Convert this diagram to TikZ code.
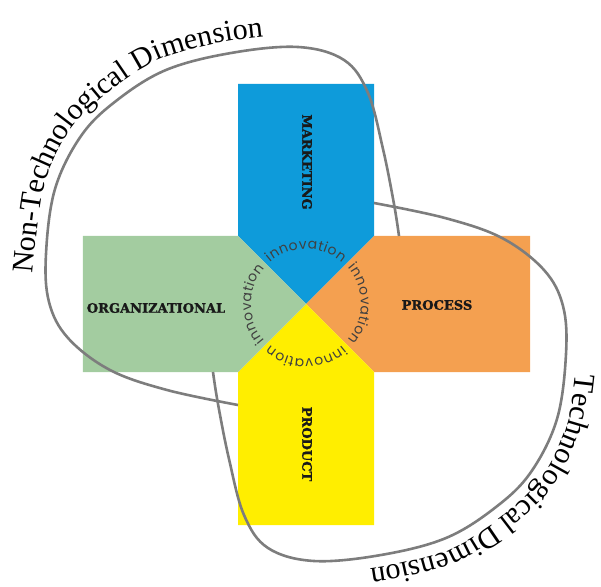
\documentclass[tikz,border=0pt]{standalone}
\usepackage{fontspec}
\setmainfont{Liberation Serif}
\newfontfamily\labelfont{DejaVu Serif}[BoldFeatures={FakeBold=1.3}]
\newfontfamily\innofont{Poppins}
\usetikzlibrary{decorations.text}

\definecolor{mkblue}{RGB}{14,155,218}
\definecolor{orggreen}{RGB}{163,204,160}
\definecolor{procorange}{RGB}{244,160,80}
\definecolor{prodyellow}{RGB}{255,238,0}
\definecolor{loopgray}{RGB}{125,125,125}

\newcommand\dimfont{\fontsize{30}{36}\selectfont}
\newcommand\innostyle{\innofont\fontsize{14}{17}\selectfont}

\begin{document}
\begin{tikzpicture}[x=1pt,y=1pt]
\tikzstyle{every node}=[font=\labelfont\bfseries\fontsize{13}{15}\selectfont, text=black!90]
\tikzstyle{dimloop}=[draw=loopgray, line width=2.6pt]
\tikzstyle{ring}=[decorate, decoration={text along path, text align=fit to path,
    text color=black!75, text={|\innostyle|innovation}}]

\useasboundingbox (-306,-282) rectangle (295,304);

% arms of the cross, every one runs into the centre
\fill[mkblue] (0,0) -- (-68,68) -- (-68,220) -- (68,220) -- (68,68) -- cycle;
\fill[procorange] (0,0) -- (68,68) -- (224,68) -- (224,-68) -- (68,-68) -- cycle;
\fill[prodyellow] (0,0) -- (68,-68) -- (68,-221) -- (-68,-221) -- (-68,-68) -- cycle;
\fill[orggreen] (0,0) -- (-68,-68) -- (-223,-68) -- (-223,68) -- (-68,68) -- cycle;

\node[rotate=-90] (marketing) at (1,142) {MARKETING};
\node (organizational) at (-150,-4) {ORGANIZATIONAL};
\node (process) at (131,-1) {PROCESS};
\node[rotate=-90] (product) at (1,-140) {PRODUCT};

% innovation, clockwise round the centre
\foreach \a in {90,0,-90,180}
  \path[ring] (\a+41:55) arc[start angle=\a+41, end angle=\a-41, radius=55pt];

% the two dimensions, second one is the first turned round
\foreach \r in {0,180}
  \draw[dimloop, rotate=\r] plot[smooth, tension=0.6] coordinates {(-68,-101) (-139,-86)
    (-196,-66) (-238,-34) (-257,2) (-260,50) (-251,115) (-225,168) (-190,203)
    (-140,234) (-75,251) (-8,257) (38,244) (62,211) (77,155) (88,100) (93,68)};

\path[decorate, decoration={text along path, text={|\dimfont|Non-Technological Dimension}}]
  plot[smooth] coordinates {(-273,30) (-262,118) (-235,175) (-197,212) (-145,245)
    (-77,263) (-7,269) (45,254)};
\path[rotate=180, decorate, decoration={text along path, text align={left, left indent=40pt},
    text={|\dimfont|Technological Dimension}}]
  plot[smooth] coordinates {(-273,30) (-262,118) (-235,175) (-197,212) (-145,245)
    (-77,263) (-7,269) (45,254)};
\end{tikzpicture}
\end{document}
